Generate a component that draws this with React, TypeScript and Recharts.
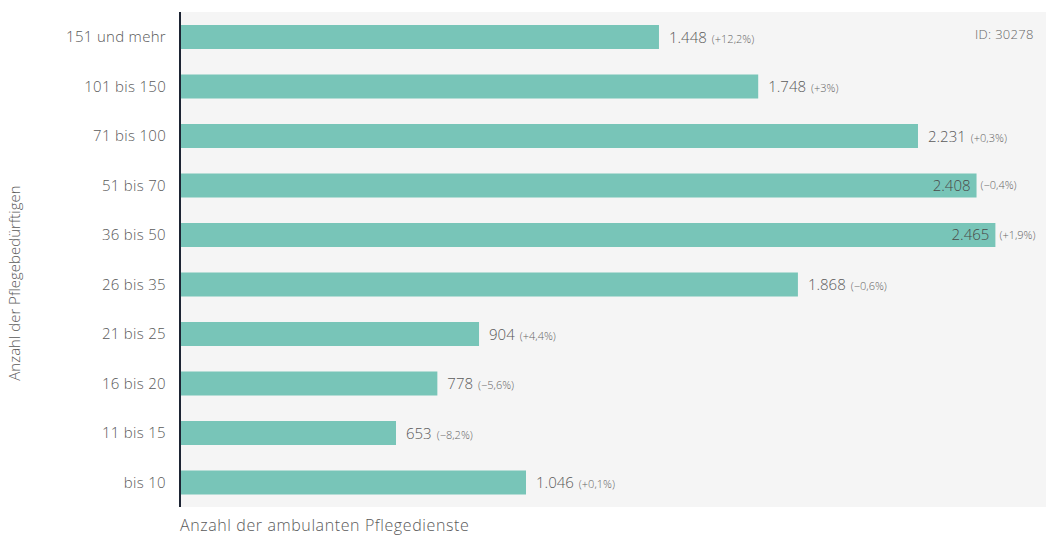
import { BarChart, Bar, XAxis, YAxis, CartesianGrid, LabelList } from 'recharts';

const categories = ['151 und mehr', '101 bis 150', '71 bis 100', '51 bis 70', '36 bis 50', '26 bis 35', '21 bis 25', '16 bis 20', '11 bis 15', 'bis 10'];
const counts = [1448, 1748, 2231, 2408, 2465, 1868, 904, 778, 653, 1046];
const changes = ['+12,2%', '+3%', '+0,3%', '−0,4%', '+1,9%', '−0,6%', '+4,4%', '−5,6%', '−8,2%', '+0,1%'];

const FONT = '"Open Sans", sans-serif';

const fmt = (n: number) => String(n).replace(/\B(?=(\d{3})+(?!\d))/g, '.');

const chartData = categories.map((c, i) => ({ name: c, value: counts[i], change: changes[i] }));

// values that would run off the plot get their number drawn inside the bar
const BarLabel = (props: any) => {
  const { x, y, width, height, index } = props;
  const d = chartData[index];
  const cy = y + height / 2;
  const end = x + width;
  const inside = d.value > 2300;
  if (inside) {
    return (
      <g fontWeight={300}>
        <text x={end - 6} y={cy} dy="0.35em" textAnchor="end" fontSize={15} fill="#4a4a4a" fontFamily={FONT}>
          {fmt(d.value)}
        </text>
        <text x={end + 4} y={cy} dy="0.35em" textAnchor="start" fontSize={11} fill="#666" fontFamily={FONT}>
          ({d.change})
        </text>
      </g>
    );
  }
  return (
    <text x={end + 10} y={cy} dy="0.35em" textAnchor="start" fill="#5a5a5a" fontFamily={FONT} fontWeight={300}>
      <tspan fontSize={15}>{fmt(d.value)}</tspan>
      <tspan fontSize={11} fill="#666" dx={5}>({d.change})</tspan>
    </text>
  );
};

export default function App() {
  return (
    <div style={{ position: 'absolute', left: 0, top: 0, width: 1046, height: 536, background: '#fff', fontFamily: FONT, fontWeight: 300 }}>
      <BarChart
        width={1046}
        height={536}
        data={chartData}
        layout="vertical"
        margin={{ top: 12, right: 0, bottom: 29, left: 0 }}
      >
        <CartesianGrid horizontal={false} vertical={false} fill="#f5f5f5" />
        <XAxis type="number" domain={[0, 2618]} hide />
        <YAxis
          type="category"
          dataKey="name"
          width={180}
          axisLine={{ stroke: '#1d2433', strokeWidth: 2 }}
          tickLine={false}
          tickMargin={8}
          tick={{ fontSize: 15, fill: '#5a5a5a', fontFamily: FONT, fontWeight: 300, letterSpacing: 0.3 }}
          interval={0}
        />
        <Bar dataKey="value" fill="#78c5b8" barSize={24} isAnimationActive={false}>
          <LabelList dataKey="value" content={BarLabel} />
        </Bar>
      </BarChart>
      <div
        style={{
          position: 'absolute',
          left: 14,
          top: 283,
          transform: 'translate(-50%, -50%) rotate(-90deg)',
          whiteSpace: 'nowrap',
          fontSize: 15,
          color: '#5a5a5a',
        }}
      >
        Anzahl der Pflegebedürftigen
      </div>
      <div style={{ position: 'absolute', left: 180, top: 514, fontSize: 16, letterSpacing: 0.6, color: '#5a5a5a', whiteSpace: 'nowrap' }}>
        Anzahl der ambulanten Pflegedienste
      </div>
      <div style={{ position: 'absolute', left: 975, top: 25, fontSize: 13, letterSpacing: 0.3, color: '#666', whiteSpace: 'nowrap' }}>
        ID: 30278
      </div>
    </div>
  );
}
